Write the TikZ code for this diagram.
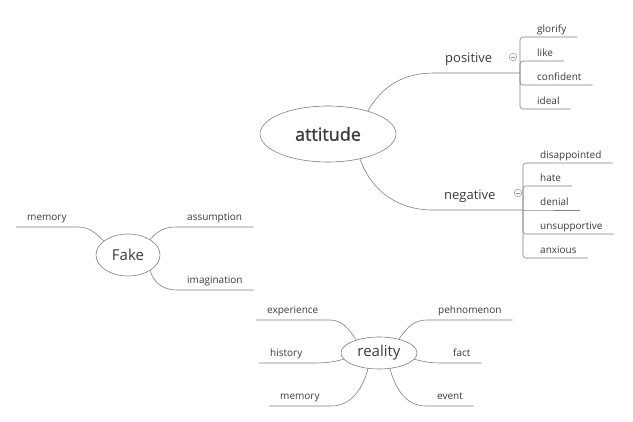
\documentclass[tikz,border=0pt]{standalone}
\usepackage{fontspec}
\setmainfont{Open Sans}
\newfontfamily\topicfont[FakeBold=1.3]{Open Sans}
\usetikzlibrary{shapes.geometric}
\definecolor{linec}{HTML}{808080}
\definecolor{textc}{HTML}{3A3A3A}
\definecolor{foldc}{HTML}{8594B0}

\begin{document}
\begin{tikzpicture}[x=1pt, y=1pt,
    topic/.style = {shape = ellipse,
                    draw = linec,
                    text = textc,
                    line width = 0.6pt,
                    inner sep = 0pt},
    leaf/.style = {anchor = south west,
                   text = textc,
                   font = \fontsize{10}{12}\selectfont,
                   inner xsep = 11pt,
                   inner ysep = 2.5pt,
                   text height = 7.5pt,
                   text depth = 3.5pt},
    sub/.style = {leaf, inner ysep = 1pt},
    branch/.style = {leaf,
                     font = \fontsize{13}{15}\selectfont,
                     inner ysep = 6pt,
                     text height = 9.5pt,
                     text depth = 4.5pt},
    link/.style = {draw = linec, line width = 0.6pt},
    fold/.style = {shape = circle,
                   draw = foldc,
                   line width = 0.5pt,
                   minimum size = 7.5pt,
                   inner sep = 0pt,
                   path picture = {\draw[foldc, line width = 0.5pt]
                     ([xshift=-2pt]path picture bounding box.center) --
                     ([xshift=2pt]path picture bounding box.center);}}]
    \useasboundingbox (0,0) rectangle (633,-422);

    % central topics
    \node[topic, minimum width = 136pt, minimum height = 56pt,
          font = \topicfont\fontsize{18}{20}\selectfont] (att) at (328,-134) {attitude};
    \node[topic, minimum width = 64pt, minimum height = 42pt,
          font = \fontsize{15}{18}\selectfont] (fak) at (128,-255) {Fake};
    \node[topic, minimum width = 76pt, minimum height = 32pt,
          font = \fontsize{15}{18}\selectfont] (rea) at (379,-353) {reality};

    % attitude: positive
    \node[branch] (pos) at (434,-73) {positive};
    \coordinate (posj) at (520,-73);
    \node[fold] (posf) at (513,-57) {};
    \draw[link] (att.30) to[out=60, in=180] (pos.south west) -- (posj);

    \node[sub] (glo) at (526,-37) {glorify};
    \node[sub] (lik) at (526,-61) {like};
    \node[sub] (con) at (526,-85) {confident};
    \node[sub] (ide) at (526,-109) {ideal};
    \draw[link, rounded corners=3pt] (posj) |- (glo.south west) -- (glo.south east);
    \draw[link, rounded corners=3pt] (posj) |- (lik.south west) -- (lik.south east);
    \draw[link, rounded corners=3pt] (posj) |- (con.south west) -- (con.south east);
    \draw[link, rounded corners=3pt] (posj) |- (ide.south west) -- (ide.south east);

    % attitude: negative
    \node[branch] (neg) at (433,-210) {negative};
    \coordinate (negj) at (523,-210);
    \node[fold] (negf) at (518,-193) {};
    \draw[link] (att.-38) to[out=-70, in=180] (neg.south west) -- (negj);

    \node[sub] (dis) at (529,-163) {disappointed};
    \node[sub] (hat) at (529,-186) {hate};
    \node[sub] (den) at (529,-210) {denial};
    \node[sub] (uns) at (529,-234) {unsupportive};
    \node[sub] (anx) at (529,-258) {anxious};
    \draw[link, rounded corners=3pt] (negj) |- (dis.south west) -- (dis.south east);
    \draw[link, rounded corners=3pt] (negj) |- (hat.south west) -- (hat.south east);
    \draw[link] (negj) -- (den.south west) -- (den.south east);
    \draw[link, rounded corners=3pt] (negj) |- (uns.south west) -- (uns.south east);
    \draw[link, rounded corners=3pt] (negj) |- (anx.south west) -- (anx.south east);

    % Fake
    \node[leaf] (memf) at (16,-227) {memory};
    \node[leaf] (asm) at (176,-227) {assumption};
    \node[leaf] (ima) at (176,-290) {imagination};
    \draw[link] (fak.150) to[out=135, in=0] (memf.south east) -- (memf.south west);
    \draw[link] (fak.35) to[out=50, in=180] (asm.south west) -- (asm.south east);
    \draw[link] (fak.-35) to[out=-75, in=180] (ima.south west) -- (ima.south east);

    % reality
    \node[leaf] (exp) at (256,-320) {experience};
    \node[leaf] (his) at (259,-363) {history};
    \node[leaf] (memr) at (269,-406) {memory};
    \node[leaf] (phe) at (427,-320) {pehnomenon};
    \node[leaf] (fac) at (442,-363) {fact};
    \node[leaf] (eve) at (426,-406) {event};
    \draw[link] (rea.150) to[out=125, in=0] (exp.south east) -- (exp.south west);
    \draw[link] (rea.190) to[out=195, in=0] (his.south east) -- (his.south west);
    \draw[link] (rea.235) to[out=255, in=0] (memr.south east) -- (memr.south west);
    \draw[link] (rea.35) to[out=55, in=180] (phe.south west) -- (phe.south east);
    \draw[link] (rea.-10) to[out=-15, in=180] (fac.south west) -- (fac.south east);
    \draw[link] (rea.-55) to[out=-75, in=180] (eve.south west) -- (eve.south east);
\end{tikzpicture}
\end{document}
